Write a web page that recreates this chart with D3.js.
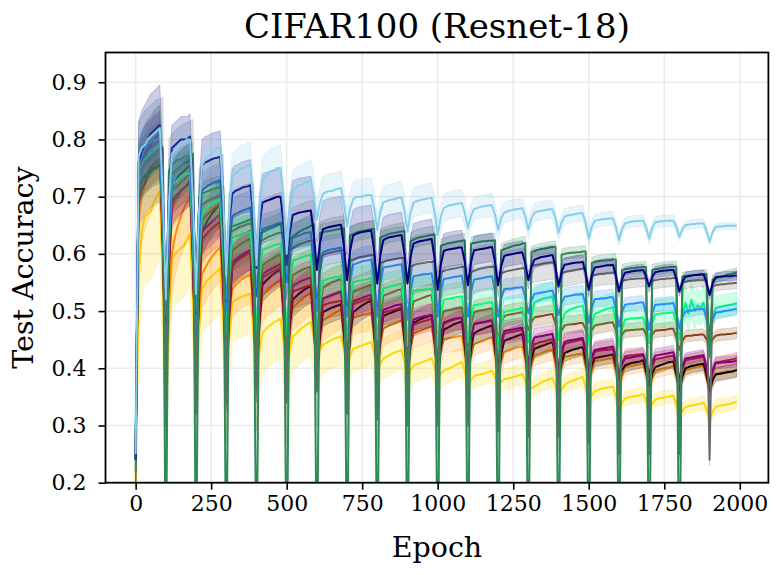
<!DOCTYPE html>
<html><head><meta charset="utf-8">
<script src="https://cdn.jsdelivr.net/npm/d3@7/dist/d3.min.js"></script>
<style>body{margin:0;background:#fff}text{font-family:"DejaVu Serif",serif;fill:#000}</style>
</head><body>
<svg id="chart" width="780" height="575"></svg>
<script>
const titleText = "CIFAR100 (Resnet-18)";
const xLabel = "Epoch";
const yLabel = "Test Accuracy";
const xTicks = [0, 250, 500, 750, 1000, 1250, 1500, 1750, 2000];
const yTicks = [0.2, 0.3, 0.4, 0.5, 0.6, 0.7, 0.8, 0.9];
const epochs = d3.range(0, 2000, 10);

// one row per task (epochs 100k .. 100k+90)
const skyblueAcc = [
.25,.77,.785,.79,.80,.805,.81,.815,.82,.70,
.52,.686,.775,.78,.785,.79,.795,.80,.80,.692,
.53,.676,.755,.765,.77,.775,.78,.785,.785,.695,
.56,.674,.735,.74,.745,.75,.75,.755,.755,.685,
.58,.678,.73,.735,.74,.745,.745,.75,.75,.69,
.60,.672,.71,.715,.72,.72,.725,.725,.73,.702,
.66,.689,.705,.708,.71,.71,.712,.714,.715,.688,
.648,.679,.695,.70,.70,.70,.702,.703,.703,.679,
.642,.673,.69,.692,.694,.695,.696,.698,.699,.675,
.639,.672,.69,.692,.694,.695,.696,.697,.698,.672,
.633,.664,.68,.683,.685,.686,.687,.688,.689,.671,
.645,.666,.678,.68,.682,.683,.684,.685,.685,.668,
.642,.662,.672,.674,.676,.677,.678,.679,.68,.665,
.642,.662,.672,.674,.675,.676,.677,.678,.678,.662,
.637,.655,.665,.667,.668,.669,.67,.671,.671,.653,
.627,.647,.658,.659,.66,.661,.661,.662,.662,.647,
.624,.643,.653,.655,.656,.657,.657,.658,.658,.646,
.627,.645,.655,.656,.657,.657,.658,.658,.658,.647,
.63,.643,.65,.651,.652,.652,.653,.653,.653,.64,
.621,.638,.647,.648,.648,.649,.649,.649,.649,.649];
const navyAcc = [
.24,.76,.78,.79,.80,.81,.815,.82,.825,.703,
.52,.692,.785,.79,.795,.80,.80,.80,.805,.699,
.54,.68,.755,.76,.762,.765,.767,.768,.77,.686,
.56,.654,.705,.71,.712,.715,.717,.718,.72,.662,
.575,.65,.69,.692,.694,.696,.698,.70,.70,.652,
.58,.637,.668,.67,.672,.673,.674,.675,.676,.634,
.572,.618,.643,.645,.647,.648,.649,.65,.651,.612,
.554,.605,.632,.635,.637,.638,.639,.64,.641,.604,
.548,.597,.624,.627,.629,.63,.631,.632,.633,.599,
.548,.594,.618,.62,.622,.623,.624,.625,.626,.59,
.537,.581,.605,.607,.608,.609,.61,.611,.611,.585,
.545,.585,.606,.607,.608,.609,.61,.611,.612,.585,
.545,.578,.596,.598,.599,.60,.601,.602,.603,.583,
.554,.577,.59,.592,.594,.595,.596,.597,.598,.576,
.543,.568,.581,.582,.583,.584,.585,.585,.586,.566,
.537,.562,.576,.577,.578,.579,.58,.58,.581,.562,
.534,.555,.567,.568,.569,.57,.571,.571,.572,.56,
.543,.559,.568,.569,.57,.571,.571,.572,.572,.557,
.534,.551,.56,.561,.562,.563,.563,.564,.564,.55,
.528,.548,.559,.56,.56,.561,.561,.561,.562,.562];
const seagreenAcc = [
.22,.72,.73,.735,.74,.745,.75,.75,.755,.76,
0,.745,.755,.76,.765,.765,.77,.77,.772,.775,
0,.70,.705,.708,.71,.712,.714,.715,.716,.718,
0,.645,.648,.65,.652,.654,.656,.658,.66,.66,
0,.635,.638,.64,.643,.645,.647,.65,.652,.654,
0,.625,.63,.634,.638,.641,.644,.646,.649,.652,
0,.636,.638,.639,.64,.641,.642,.643,.644,.645,
0,.632,.635,.637,.639,.64,.641,.642,.643,.644,
0,.628,.631,.633,.635,.636,.637,.638,.639,.64,
0,.622,.625,.627,.629,.63,.631,.632,.633,.634,
0,.614,.616,.618,.619,.62,.621,.622,.623,.624,
0,.618,.619,.62,.621,.622,.622,.623,.623,.624,
0,.606,.608,.61,.612,.614,.615,.616,.618,.619,
0,.603,.605,.607,.608,.609,.61,.611,.612,.612,
0,.598,.60,.601,.602,.602,.603,.603,.604,.604,
0,.584,.586,.587,.588,.588,.589,.589,.59,.59,
0,.572,.573,.574,.575,.575,.576,.576,.577,.577,
0,.572,.573,.574,.575,.576,.576,.577,.577,.578,
0,.56,.561,.562,.562,.563,.563,.564,.564,.565,
.42,.555,.557,.559,.561,.562,.564,.565,.566,.568];
const dimgrayAcc = [
.24,.74,.75,.76,.765,.77,.775,.78,.78,.785,
.30,.73,.74,.745,.75,.755,.758,.76,.762,.765,
.32,.68,.685,.69,.693,.696,.698,.70,.702,.704,
.34,.635,.64,.643,.646,.648,.65,.652,.653,.655,
.36,.62,.624,.627,.63,.632,.634,.636,.637,.638,
.34,.605,.61,.613,.616,.618,.62,.622,.623,.624,
.36,.595,.598,.60,.602,.603,.604,.605,.606,.607,
.32,.588,.59,.592,.594,.595,.596,.597,.598,.598,
.31,.584,.586,.588,.589,.59,.591,.592,.593,.593,
.30,.578,.58,.582,.583,.584,.585,.586,.586,.587,
.30,.568,.57,.572,.573,.574,.575,.576,.577,.578,
.30,.568,.57,.572,.574,.575,.576,.577,.577,.578,
.29,.566,.568,.57,.571,.572,.573,.574,.575,.575,
.28,.578,.58,.581,.582,.583,.584,.585,.585,.586,
.28,.566,.568,.569,.57,.571,.572,.573,.574,.575,
.27,.562,.563,.564,.565,.565,.566,.566,.567,.567,
.25,.553,.554,.555,.556,.556,.557,.557,.557,.558,
.25,.553,.554,.555,.556,.556,.557,.557,.558,.558,
.25,.55,.551,.552,.553,.553,.554,.554,.554,.555,
.24,.543,.545,.546,.547,.547,.548,.548,.549,.549];
const dodgerblueAcc = [
.29,.76,.775,.785,.79,.795,.80,.80,.805,.659,
.44,.629,.73,.74,.745,.75,.755,.758,.76,.638,
.455,.621,.71,.715,.72,.722,.725,.727,.729,.637,
.50,.607,.665,.67,.672,.675,.677,.679,.681,.619,
.525,.602,.643,.645,.647,.649,.651,.653,.655,.613,
.55,.601,.628,.63,.632,.634,.636,.637,.638,.583,
.50,.567,.603,.605,.607,.608,.609,.61,.611,.563,
.49,.549,.581,.583,.585,.587,.588,.589,.59,.55,
.49,.546,.576,.577,.578,.579,.58,.581,.582,.543,
.485,.534,.561,.562,.563,.564,.565,.565,.566,.536,
.49,.533,.556,.557,.558,.559,.56,.561,.562,.533,
.49,.532,.555,.556,.557,.558,.559,.56,.561,.533,
.49,.521,.538,.539,.539,.54,.541,.541,.542,.524,
.496,.518,.53,.531,.532,.533,.534,.535,.536,.519,
.493,.514,.525,.526,.527,.528,.529,.529,.53,.51,
.479,.506,.521,.521,.522,.522,.523,.524,.524,.504,
.473,.498,.511,.512,.513,.513,.514,.515,.515,.496,
.467,.496,.511,.511,.512,.512,.513,.513,.514,.496,
.469,.489,.499,.50,.501,.502,.503,.503,.504,.487,
.461,.484,.497,.498,.499,.50,.501,.502,.503,.504];
const springgreenAcc = [
.27,.74,.755,.765,.77,.775,.78,.785,.79,.654,
.45,.626,.72,.725,.73,.735,.738,.74,.742,.625,
.45,.594,.672,.678,.683,.687,.69,.693,.696,.602,
.46,.569,.628,.63,.632,.634,.636,.637,.638,.567,
.46,.556,.607,.609,.611,.613,.615,.617,.618,.555,
.46,.543,.588,.59,.592,.594,.596,.597,.599,.539,
.45,.517,.553,.555,.557,.558,.559,.56,.562,.517,
.45,.515,.55,.552,.553,.554,.555,.556,.558,.515,
.45,.509,.54,.541,.543,.544,.545,.547,.548,.505,
.44,.502,.535,.536,.537,.537,.538,.538,.539,.499,
.44,.492,.52,.521,.522,.523,.524,.525,.526,.494,
.445,.487,.51,.511,.512,.513,.514,.515,.515,.485,
.44,.478,.498,.50,.501,.502,.503,.504,.506,.482,
.445,.49,.515,.518,.52,.522,.523,.524,.526,.496,
.45,.479,.495,.50,.503,.505,.507,.508,.509,.483,
.445,.478,.495,.497,.50,.502,.504,.505,.507,.48,
.44,.469,.485,.486,.487,.487,.488,.488,.489,.471,
.445,.477,.494,.495,.496,.496,.497,.497,.498,.478,
.449,.492,.515,.495,.52,.50,.51,.505,.515,.489,
.45,.486,.505,.507,.508,.509,.51,.511,.512,.514];
const saddlebrownAcc = [
.26,.73,.745,.755,.76,.765,.77,.775,.78,.628,
.40,.602,.71,.715,.72,.725,.73,.735,.74,.604,
.40,.568,.658,.665,.67,.675,.68,.684,.687,.576,
.41,.537,.605,.61,.614,.618,.621,.624,.627,.544,
.42,.524,.58,.584,.588,.591,.594,.597,.599,.531,
.43,.516,.563,.566,.569,.572,.574,.576,.578,.519,
.43,.502,.541,.544,.547,.55,.552,.554,.556,.506,
.43,.498,.534,.536,.538,.54,.542,.544,.546,.50,
.43,.493,.527,.529,.531,.533,.535,.537,.538,.495,
.43,.487,.517,.519,.521,.523,.525,.527,.528,.493,
.44,.479,.50,.501,.502,.503,.504,.505,.506,.48,
.44,.478,.498,.50,.501,.502,.503,.504,.505,.483,
.45,.477,.491,.493,.494,.495,.496,.497,.498,.486,
.467,.481,.489,.49,.491,.492,.493,.494,.495,.477,
.45,.466,.475,.476,.477,.477,.478,.479,.479,.468,
.452,.467,.475,.476,.477,.478,.479,.48,.48,.466,
.445,.459,.466,.466,.467,.467,.468,.468,.469,.459,
.445,.459,.466,.466,.467,.467,.468,.469,.469,.454,
.432,.448,.456,.457,.457,.458,.458,.459,.459,.451,
.44,.451,.457,.458,.459,.459,.46,.46,.461,.462];
const purpleAcc = [
.25,.74,.76,.77,.78,.785,.79,.795,.80,.632,
.38,.582,.69,.70,.705,.71,.715,.72,.725,.587,
.38,.548,.638,.645,.65,.655,.66,.665,.67,.554,
.38,.513,.585,.59,.594,.598,.601,.604,.607,.52,
.39,.503,.564,.568,.571,.574,.577,.58,.582,.509,
.40,.494,.544,.547,.55,.553,.555,.557,.559,.499,
.41,.483,.522,.524,.526,.528,.53,.532,.534,.484,
.41,.48,.517,.519,.521,.523,.525,.527,.528,.481,
.41,.47,.502,.504,.506,.508,.51,.511,.512,.471,
.41,.459,.485,.487,.489,.49,.491,.492,.493,.46,
.41,.456,.48,.482,.484,.486,.487,.488,.489,.457,
.41,.454,.478,.479,.48,.481,.482,.483,.484,.454,
.41,.446,.465,.466,.467,.468,.469,.47,.471,.447,
.41,.439,.454,.455,.456,.457,.458,.459,.46,.436,
.40,.43,.446,.448,.449,.45,.451,.452,.453,.432,
.40,.421,.432,.433,.434,.435,.436,.437,.438,.419,
.39,.408,.417,.418,.419,.42,.421,.422,.423,.41,
.39,.411,.422,.423,.424,.425,.426,.427,.428,.409,
.38,.404,.417,.418,.419,.42,.421,.422,.423,.402,
.37,.395,.409,.409,.41,.41,.411,.411,.412,.413];
const firebrickAcc = [
.25,.73,.75,.76,.765,.77,.775,.78,.785,.619,
.37,.575,.685,.695,.70,.71,.715,.72,.73,.586,
.37,.536,.625,.632,.638,.643,.648,.652,.656,.542,
.37,.507,.58,.585,.589,.593,.596,.599,.602,.513,
.38,.496,.559,.562,.565,.568,.571,.574,.576,.502,
.39,.483,.533,.536,.538,.54,.542,.544,.545,.487,
.40,.472,.51,.512,.514,.515,.516,.517,.518,.471,
.40,.473,.512,.514,.516,.518,.52,.521,.523,.474,
.40,.463,.497,.499,.50,.502,.503,.505,.506,.464,
.40,.449,.476,.478,.48,.482,.483,.485,.486,.452,
.40,.451,.478,.48,.482,.484,.486,.487,.488,.453,
.40,.45,.477,.478,.479,.48,.481,.482,.484,.45,
.40,.439,.46,.462,.463,.464,.465,.466,.467,.44,
.40,.427,.442,.444,.446,.447,.448,.45,.451,.427,
.39,.424,.442,.444,.446,.447,.448,.449,.45,.426,
.39,.415,.429,.43,.431,.432,.432,.433,.434,.412,
.38,.407,.421,.422,.423,.423,.424,.424,.425,.407,
.38,.403,.416,.417,.418,.419,.42,.421,.422,.401,
.37,.399,.414,.415,.416,.417,.418,.419,.42,.40,
.37,.396,.41,.411,.412,.413,.414,.415,.416,.418];
const blackAcc = [
.24,.74,.76,.775,.785,.79,.80,.805,.81,.63,
.36,.591,.715,.725,.735,.74,.745,.75,.755,.597,
.36,.542,.64,.65,.66,.668,.675,.682,.688,.557,
.36,.502,.578,.585,.591,.596,.60,.604,.607,.512,
.37,.484,.546,.552,.557,.562,.566,.57,.573,.496,
.38,.471,.52,.525,.53,.534,.538,.541,.544,.478,
.38,.457,.498,.501,.504,.506,.508,.51,.512,.459,
.38,.457,.498,.502,.506,.51,.513,.516,.518,.463,
.38,.452,.491,.494,.496,.498,.50,.502,.504,.454,
.38,.444,.479,.482,.485,.487,.489,.491,.493,.448,
.38,.437,.467,.47,.473,.476,.478,.48,.482,.441,
.38,.433,.461,.464,.467,.469,.471,.473,.475,.437,
.38,.424,.448,.45,.452,.454,.456,.458,.46,.428,
.38,.415,.434,.436,.438,.44,.442,.444,.446,.42,
.38,.411,.427,.429,.431,.433,.434,.436,.437,.414,
.38,.405,.418,.419,.42,.421,.422,.423,.424,.406,
.38,.396,.405,.407,.409,.41,.411,.412,.414,.396,
.37,.391,.402,.404,.406,.408,.41,.411,.412,.391,
.36,.386,.40,.402,.404,.405,.406,.407,.408,.389,
.36,.379,.389,.39,.391,.392,.393,.394,.395,.397];
const darkorangeAcc = [
.25,.66,.70,.72,.74,.75,.76,.765,.77,.602,
.35,.513,.60,.63,.65,.665,.68,.69,.70,.58,
.40,.507,.565,.575,.585,.593,.60,.606,.612,.535,
.42,.497,.538,.545,.55,.555,.558,.561,.564,.506,
.42,.49,.527,.533,.538,.543,.547,.551,.555,.505,
.43,.479,.506,.511,.516,.52,.525,.529,.533,.48,
.40,.454,.483,.487,.49,.494,.497,.50,.503,.462,
.40,.457,.488,.49,.492,.493,.494,.495,.497,.454,
.39,.441,.469,.472,.475,.477,.479,.481,.484,.446,
.39,.436,.461,.463,.465,.467,.469,.471,.473,.44,
.39,.43,.451,.452,.453,.454,.455,.456,.457,.426,
.38,.42,.442,.444,.446,.448,.45,.452,.454,.424,
.38,.411,.428,.43,.432,.434,.436,.437,.438,.415,
.38,.407,.422,.424,.426,.428,.43,.431,.432,.407,
.37,.403,.42,.421,.422,.423,.424,.425,.426,.404,
.37,.397,.412,.413,.414,.415,.416,.417,.417,.394,
.36,.387,.402,.403,.404,.405,.406,.407,.408,.389,
.36,.383,.395,.397,.399,.40,.401,.402,.404,.386,
.36,.384,.397,.398,.40,.401,.402,.403,.404,.385,
.357,.379,.391,.392,.393,.394,.395,.395,.396,.397];
const goldAcc = [
.20,.55,.64,.665,.67,.675,.69,.70,.71,.546,
.30,.489,.59,.60,.605,.61,.615,.625,.635,.513,
.33,.467,.54,.548,.555,.56,.565,.57,.575,.485,
.35,.457,.515,.519,.522,.525,.527,.529,.53,.466,
.37,.43,.462,.468,.473,.477,.481,.484,.487,.444,
.38,.429,.455,.46,.465,.47,.474,.478,.481,.454,
.414,.432,.441,.444,.447,.45,.452,.454,.456,.432,
.397,.421,.434,.436,.438,.44,.442,.444,.446,.424,
.391,.408,.417,.42,.423,.426,.428,.43,.432,.411,
.38,.396,.405,.407,.409,.411,.413,.415,.417,.402,
.38,.39,.396,.398,.40,.403,.406,.408,.411,.394,
.368,.38,.386,.388,.389,.39,.392,.394,.396,.385,
.368,.376,.381,.382,.383,.385,.386,.388,.39,.378,
.36,.365,.368,.371,.374,.377,.379,.381,.383,.369,
.348,.363,.371,.374,.377,.379,.381,.383,.385,.367,
.34,.353,.36,.362,.364,.365,.366,.367,.368,.35,
.324,.339,.347,.349,.35,.351,.352,.353,.355,.343,
.324,.338,.345,.347,.348,.349,.35,.351,.352,.337,
.314,.326,.332,.334,.335,.336,.337,.338,.34,.328,
.31,.324,.332,.334,.335,.336,.337,.338,.34,.342];

// spread (std) per task, 20 tasks
const skyblueSd = [.05,.03,.03,.04,.04,.035,.03,.03,.028,.026,.024,.02,.018,.016,.014,.012,.01,.01,.008,.006];
const navySd = [.07,.04,.045,.045,.05,.06,.05,.045,.04,.035,.03,.025,.02,.015,.012,.012,.01,.01,.008,.008];
const seagreenSd = [.03,.02,.02,.02,.02,.02,.015,.015,.015,.015,.012,.012,.012,.01,.01,.01,.01,.01,.008,.008];
const dimgraySd = [.09,.07,.07,.07,.07,.07,.06,.06,.055,.05,.045,.04,.035,.03,.025,.02,.015,.015,.012,.01];
const dodgerblueSd = [.04,.03,.03,.03,.025,.025,.025,.025,.022,.02,.02,.02,.018,.016,.015,.014,.012,.012,.01,.01];
const springgreenSd = [.04,.03,.03,.03,.03,.03,.025,.025,.025,.025,.025,.025,.025,.025,.025,.025,.022,.025,.03,.02];
const saddlebrownSd = [.05,.04,.04,.035,.03,.03,.025,.025,.02,.02,.02,.02,.018,.016,.015,.015,.012,.012,.01,.01];
const purpleSd = [.05,.04,.04,.035,.03,.03,.025,.025,.022,.02,.02,.02,.018,.016,.015,.015,.012,.012,.01,.01];
const firebrickSd = [.05,.04,.04,.035,.03,.03,.025,.025,.022,.02,.02,.02,.018,.016,.015,.015,.012,.012,.01,.01];
const blackSd = [.05,.04,.04,.035,.03,.03,.025,.025,.022,.02,.02,.02,.018,.016,.015,.015,.012,.012,.012,.012];
const darkorangeSd = [.08,.07,.06,.05,.045,.04,.035,.03,.03,.025,.025,.02,.02,.018,.016,.015,.014,.013,.012,.012];
const goldSd = [.12,.09,.08,.07,.07,.06,.05,.04,.035,.03,.025,.02,.018,.016,.015,.014,.013,.012,.012,.012];

const seriesList = [
  {color:"#ffd700", acc:goldAcc, sd:goldSd},
  {color:"#ff8c00", acc:darkorangeAcc, sd:darkorangeSd},
  {color:"#000000", acc:blackAcc, sd:blackSd},
  {color:"#b22222", acc:firebrickAcc, sd:firebrickSd},
  {color:"#800080", acc:purpleAcc, sd:purpleSd},
  {color:"#8b4513", acc:saddlebrownAcc, sd:saddlebrownSd},
  {color:"#00ff7f", acc:springgreenAcc, sd:springgreenSd},
  {color:"#1e90ff", acc:dodgerblueAcc, sd:dodgerblueSd},
  {color:"#696969", acc:dimgrayAcc, sd:dimgraySd},
  {color:"#2e8b57", acc:seagreenAcc, sd:seagreenSd},
  {color:"#000080", acc:navyAcc, sd:navySd},
  {color:"#87ceeb", acc:skyblueAcc, sd:skyblueSd}
];

const L = 105.5, R = 768.4, T = 52.5, B = 482.7;
const svg = d3.select("#chart");
const x = d3.scaleLinear().domain([-99.75, 2094.75]).range([L, R]);
const y = d3.scaleLinear().domain([0.2, 0.952]).range([B, T]);

svg.append("defs").append("clipPath").attr("id","clip")
  .append("rect").attr("x",L).attr("y",T).attr("width",R-L).attr("height",B-T);

// grid
const grid = svg.append("g");
xTicks.forEach(t => grid.append("line").attr("x1",x(t)).attr("x2",x(t)).attr("y1",T).attr("y2",B)
  .attr("stroke","#ebebeb").attr("stroke-width",1.6));
yTicks.forEach(t => grid.append("line").attr("y1",y(t)).attr("y2",y(t)).attr("x1",L).attr("x2",R)
  .attr("stroke","#ebebeb").attr("stroke-width",1.6));

const plot = svg.append("g").attr("clip-path","url(#clip)");
const line = d3.line().x((d,i)=>x(epochs[i])).y(d=>y(d)).curve(d3.curveLinear);
seriesList.forEach(s => {
  const area = d3.area()
    .x((d,i)=>x(epochs[i]))
    .y0((d,i)=>y(d - s.sd[Math.floor(i/10)]))
    .y1((d,i)=>y(d + s.sd[Math.floor(i/10)]));
  plot.append("path").datum(s.acc).attr("d", area)
    .attr("fill", s.color).attr("fill-opacity", 0.2)
    .attr("stroke", s.color).attr("stroke-opacity", 0.2).attr("stroke-width", 1);
  plot.append("path").datum(s.acc).attr("d", line)
    .attr("fill","none").attr("stroke", s.color).attr("stroke-width", 2)
    .attr("stroke-linejoin","round");
});

// axes
const xAxis = d3.axisBottom(x).tickValues(xTicks).tickSize(7).tickPadding(6).tickFormat(d3.format("d"));
const yAxis = d3.axisLeft(y).tickValues(yTicks).tickSize(7).tickPadding(12).tickFormat(d3.format(".1f"));
const gx = svg.append("g").attr("transform",`translate(0,${B})`).call(xAxis);
const gy = svg.append("g").attr("transform",`translate(${L},0)`).call(yAxis);
[gx, gy].forEach(g => {
  g.select(".domain").remove();
  g.selectAll(".tick line").attr("stroke","#000").attr("stroke-width",1.6);
  g.selectAll(".tick text").attr("font-size","22px").attr("font-family","DejaVu Serif").attr("fill","#000");
});
// frame
svg.append("rect").attr("x",L).attr("y",T).attr("width",R-L).attr("height",B-T)
  .attr("fill","none").attr("stroke","#000").attr("stroke-width",1.8);

svg.append("text").attr("x",(L+R)/2).attr("y",38).attr("text-anchor","middle")
  .attr("font-size","34px").text(titleText);
svg.append("text").attr("x",(L+R)/2).attr("y",557).attr("text-anchor","middle")
  .attr("font-size","28.5px").text(xLabel);
svg.append("text").attr("transform",`translate(33,${(T+B)/2}) rotate(-90)`).attr("text-anchor","middle")
  .attr("font-size","28.5px").text(yLabel);
</script>
</body></html>
